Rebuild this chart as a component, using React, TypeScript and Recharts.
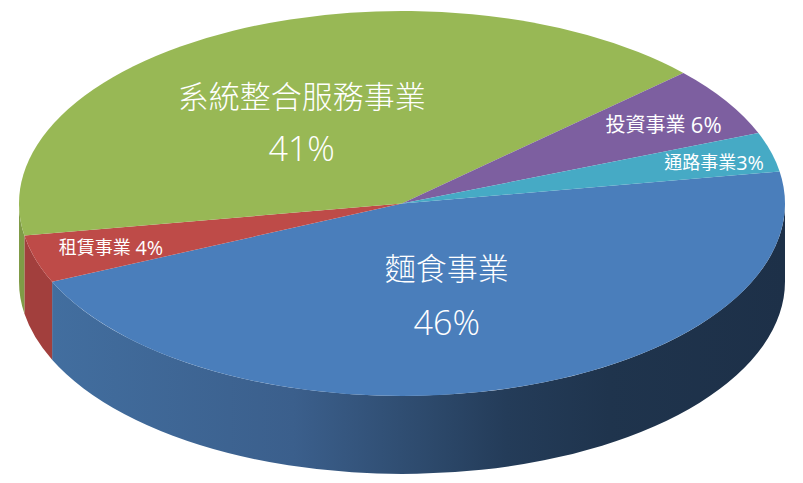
import React from "react";
import { PieChart, Pie, Cell } from "recharts";

const categories = ["麵食事業", "租賃事業", "系統整合服務事業", "投資事業", "通路事業"];
const shares = [46.0, 4.0, 40.8, 5.9, 3.3];

const topColors = ["#4A7EBB", "#BE4B48", "#98B855", "#7D5FA0", "#46AAC5"];
const wallColors = ["url(#blueWall)", "#A23F3D", "#7F9B46", "#6A5088", "#3A90A8"];
const labelStyles = [
  { fx: 0.117, fy: 0.337, size: 31, sep: "\n", gap: 54, weight: 300 },
  { fx: -0.76, fy: 0.226, size: 18, sep: " ", gap: 0, weight: 400 },
  { fx: -0.262, fy: -0.56, size: 31, sep: "\n", gap: 52, weight: 300 },
  { fx: 0.683, fy: -0.412, size: 20, sep: " ", gap: 0, weight: 400 },
  { fx: 0.815, fy: -0.215, size: 18, sep: "", gap: 0, weight: 400 },
];

const W = 803;
const H = 483;
const CX = 402;
const CY = 203.5;
const RX = 383;
const SQUASH = 192.5 / 383;
const DEPTH = 78;
const FONT = '"Open Sans", "Noto Sans CJK TC", sans-serif';
const DIGIT_SCALE = 1.1;

const rad = (d: number) => (d * Math.PI) / 180;
const px = (cx: number, r: number, a: number) => cx + r * Math.cos(rad(a));
const py = (cy: number, r: number, a: number) => cy - r * SQUASH * Math.sin(rad(a));

const tableData = categories.map((name, i) => ({ name, value: shares[i], index: i }));

function SliceShape(props: any) {
  const { cx, cy, outerRadius: r, startAngle, endAngle, fill, index } = props;
  const ry = r * SQUASH;
  const lo = Math.min(startAngle, endAngle);
  const hi = Math.max(startAngle, endAngle);
  const wLo = Math.max(lo, -180);
  const wHi = Math.min(hi, 0);
  const large = hi - lo > 180 ? 1 : 0;
  const top =
    `M${cx},${cy} L${px(cx, r, hi)},${py(cy, r, hi)} ` +
    `A${r},${ry} 0 ${large} 1 ${px(cx, r, lo)},${py(cy, r, lo)} Z`;
  let wall = null as any;
  if (wHi > wLo) {
    const x1 = px(cx, r, wHi);
    const y1 = py(cy, r, wHi);
    const x2 = px(cx, r, wLo);
    const y2 = py(cy, r, wLo);
    const d =
      `M${x1},${y1} A${r},${ry} 0 0 1 ${x2},${y2} L${x2},${y2 + DEPTH} ` +
      `A${r},${ry} 0 0 0 ${x1},${y1 + DEPTH} Z`;
    wall = <path d={d} fill={wallColors[index]} stroke="none" />;
  }
  return (
    <g>
      {wall}
      <path d={top} fill={fill} stroke="none" />
    </g>
  );
}

function SliceLabel(props: any) {
  const { cx, cy, outerRadius: r, index } = props;
  const s = labelStyles[index];
  const pct = `${Math.round(shares[index])}%`;
  const x = cx + s.fx * r;
  const y = cy + s.fy * r * SQUASH;
  const common = {
    fill: "#FFFFFF",
    fontFamily: FONT,
    fontWeight: s.weight,
    textAnchor: "middle" as const,
    dominantBaseline: "central" as const,
  };
  const digitSize = s.size * DIGIT_SCALE;
  if (s.sep === "\n") {
    return (
      <text {...common} x={x} y={y} fontSize={s.size}>
        <tspan x={x} y={y}>{categories[index]}</tspan>
        <tspan x={x} y={y + s.gap} fontSize={digitSize}>{pct}</tspan>
      </text>
    );
  }
  return (
    <text {...common} x={x} y={y} fontSize={s.size}>
      {categories[index]}
      {s.sep}
      <tspan fontSize={digitSize}>{pct}</tspan>
    </text>
  );
}

export default function App() {
  return (
    <div style={{ position: "absolute", left: 0, top: 0, width: W, height: H }}>
      <PieChart width={W} height={H} margin={{ top: 0, right: 0, bottom: 0, left: 0 }}>
        <defs>
          <linearGradient id="blueWall" gradientUnits="userSpaceOnUse" x1={52} y1={0} x2={785} y2={0}>
            <stop offset="0" stopColor="#426E9F" />
            <stop offset="0.33" stopColor="#3B5F8C" />
            <stop offset="0.5" stopColor="#2E4B6E" />
            <stop offset="0.62" stopColor="#243C59" />
            <stop offset="0.76" stopColor="#1F344D" />
            <stop offset="1" stopColor="#1D3048" />
          </linearGradient>
        </defs>
        <Pie
          data={tableData}
          dataKey="value"
          nameKey="name"
          cx={CX}
          cy={CY}
          innerRadius={0}
          outerRadius={RX}
          startAngle={9.6}
          endAngle={-350.4}
          stroke="none"
          shape={SliceShape}
          label={SliceLabel}
          labelLine={false}
          isAnimationActive={false}
        >
          {tableData.map((d, i) => (
            <Cell key={d.name} fill={topColors[i]} />
          ))}
        </Pie>
      </PieChart>
    </div>
  );
}
